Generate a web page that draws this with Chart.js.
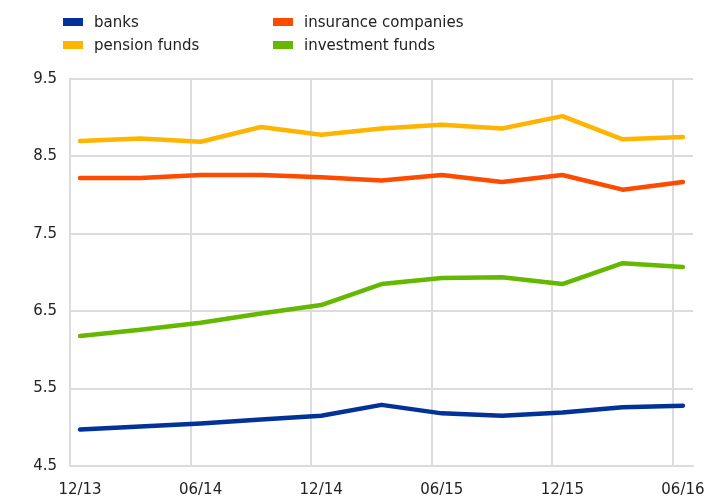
<!DOCTYPE html>
<html>
<head>
<meta charset="utf-8">
<script src="https://cdn.jsdelivr.net/npm/chart.js@4.4.1/dist/chart.umd.min.js"></script>
<style>
    body { margin: 0; background: #fff; }
    #wrap { position: relative; width: 721px; height: 496px; }
    #legend {
        position: absolute; left: 63px; top: 13px;
        display: grid; grid-template-columns: 210px 200px; row-gap: 5px;
        font: 15px "DejaVu Sans", sans-serif; color: #222;
    }
    .item { display: flex; align-items: center; height: 18px; }
    .swatch { width: 20px; height: 8px; margin-right: 11px; }
</style>
</head>
<body>
<div id="wrap">
    <canvas id="chart" width="721" height="496"></canvas>
    <div id="legend"></div>
</div>
<script>
// quarterly observations, 12/13 .. 06/16
const quarters = ['12/13', '03/14', '06/14', '09/14', '12/14', '03/15', '06/15', '09/15', '12/15', '03/16', '06/16'];
const labelQuarters = [0, 2, 4, 6, 8, 10]; // which quarters get an axis label
const yTicks = [4.5, 5.5, 6.5, 7.5, 8.5, 9.5];

const banks      = [4.97, 5.01, 5.05, 5.10, 5.15, 5.29, 5.18, 5.15, 5.19, 5.26, 5.28];
const insurance  = [8.22, 8.22, 8.26, 8.26, 8.23, 8.19, 8.26, 8.17, 8.26, 8.07, 8.17];
const pension    = [8.70, 8.73, 8.69, 8.88, 8.78, 8.86, 8.91, 8.86, 9.02, 8.72, 8.75];
const investment = [6.18, 6.26, 6.35, 6.47, 6.58, 6.85, 6.93, 6.94, 6.85, 7.12, 7.07];

const series = [
    { label: 'banks', data: banks, color: '#003299' },
    { label: 'insurance companies', data: insurance, color: '#ff4b00' },
    { label: 'pension funds', data: pension, color: '#ffb400' },
    { label: 'investment funds', data: investment, color: '#65b800' }
];

// gridlines sit a little left of the observation they label
const gridShift = 1 / 6;
const gridColor = '#dcdcdc';

// legend, two columns
const legend = document.getElementById('legend');
series.forEach(s => {
    const item = document.createElement('div');
    item.className = 'item';
    item.innerHTML = '<span class="swatch" style="background:' + s.color + '"></span>' + s.label;
    legend.appendChild(item);
});

const ctx = document.getElementById('chart').getContext('2d');
new Chart(ctx, {
    type: 'line',
    data: {
        datasets: series.map(s => ({
            label: s.label,
            data: s.data.map((v, i) => ({ x: i, y: v })),
            borderColor: s.color,
            backgroundColor: s.color,
            borderWidth: 4.5,
            borderJoinStyle: 'round',
            borderCapStyle: 'round',
            pointRadius: 0,
            tension: 0
        }))
    },
    options: {
        responsive: false,
        devicePixelRatio: 1,
        animation: false,
        layout: { padding: { top: 79, right: 28, left: 0, bottom: 0 } },
        plugins: {
            legend: { display: false },
            tooltip: { enabled: false }
        },
        scales: {
            x: {
                type: 'linear',
                min: -gridShift,
                max: quarters.length - 1 + gridShift,
                afterBuildTicks: function(scale) {
                    scale.ticks = labelQuarters.map(i => ({ value: i - gridShift }));
                },
                afterFit: function(scale) { scale.height = 30; },
                grid: {
                    lineWidth: 2,
                    drawTicks: false,
                    // only the labelled ticks get a line, nothing at the right edge
                    color: function(c) {
                        if (!c.tick) return 'rgba(0,0,0,0)';
                        const q = Math.round(c.tick.value + gridShift);
                        return labelQuarters.includes(q) && Math.abs(c.tick.value + gridShift - q) < 1e-6
                            ? gridColor : 'rgba(0,0,0,0)';
                    }
                },
                border: { color: gridColor, width: 2 },
                ticks: {
                    padding: 15,
                    labelOffset: 10,
                    maxRotation: 0,
                    autoSkip: false,
                    color: '#222',
                    font: { family: 'DejaVu Sans', size: 15 },
                    callback: function(value) {
                        return quarters[Math.round(value + gridShift)];
                    }
                }
            },
            y: {
                min: 4.5,
                max: 9.5,
                afterBuildTicks: function(scale) {
                    scale.ticks = yTicks.map(v => ({ value: v }));
                },
                afterFit: function(scale) { scale.width = 70; },
                grid: { color: gridColor, lineWidth: 2, drawTicks: false },
                border: { color: gridColor, width: 2 },
                ticks: {
                    padding: 13,
                    color: '#222',
                    font: { family: 'DejaVu Sans', size: 15 },
                    callback: function(value) {
                        return value.toFixed(1);
                    }
                }
            }
        }
    }
});
</script>
</body>
</html>
